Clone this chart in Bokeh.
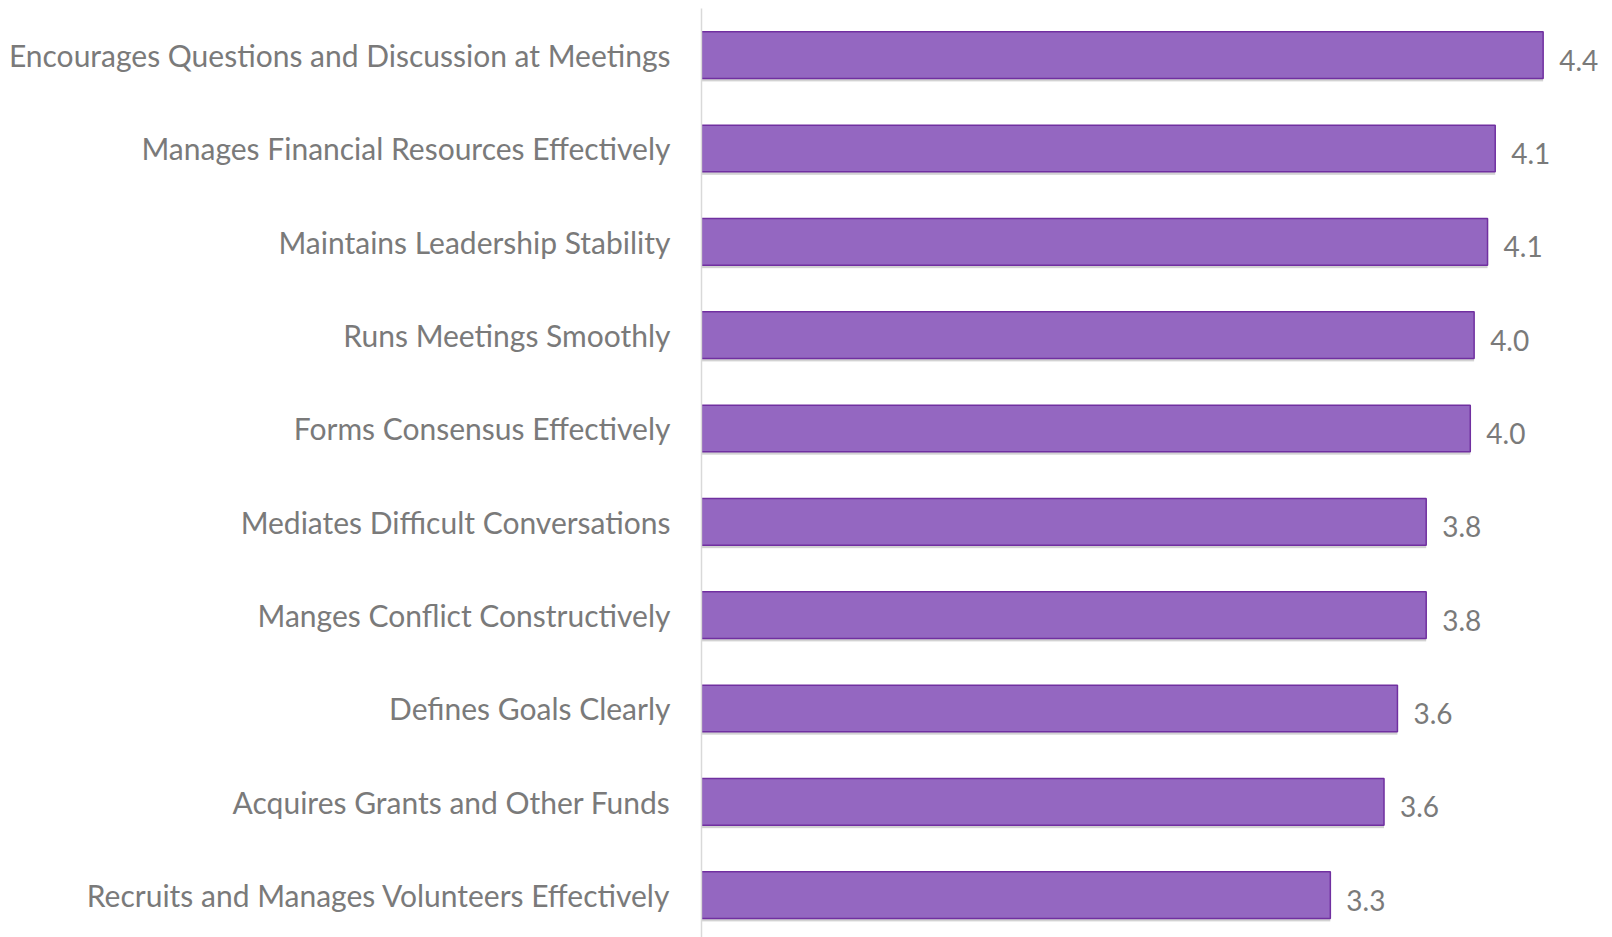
from bokeh.plotting import figure
from bokeh.models import ColumnDataSource, Range1d, FixedTicker
from bokeh.transform import dodge
from bokeh.core.properties import value
from bokeh.embed import file_html
from bokeh.resources import INLINE

categories = [
    "Encourages Questions and Discussion at Meetings",
    "Manages Financial Resources Effectively",
    "Maintains Leadership Stability",
    "Runs Meetings Smoothly",
    "Forms Consensus Effectively",
    "Mediates Difficult Conversations",
    "Manges Conflict Constructively",
    "Defines Goals Clearly",
    "Acquires Grants and Other Funds",
    "Recruits and Manages Volunteers Effectively",
]
scores = [4.39, 4.14, 4.10, 4.03, 4.01, 3.78, 3.78, 3.63, 3.56, 3.28]

n = len(categories)
ys = [n - 0.5 - i for i in range(n)]
labels = [f"{v:.1f}" for v in scores]

src = ColumnDataSource(dict(y=ys, x=scores, label=labels, cat=categories))

FONT = "Lato"
GRAY = "#7a7a7a"

p = figure(width=1604, height=937, output_backend="svg", toolbar_location=None,
           x_range=Range1d(0, 4.71), y_range=Range1d(n - 929 / 93.33, n),
           min_border_left=701, min_border_right=0, min_border_top=8, min_border_bottom=0)
p.outline_line_color = None
p.xgrid.visible = False
p.ygrid.visible = False
p.xaxis.visible = False

# soft shadow
p.hbar(y=dodge("y", -0.03), right="x", left=0, height=0.5, source=src,
       fill_color="black", fill_alpha=0.12, line_color=None)
p.hbar(y=dodge("y", -0.045), right="x", left=0, height=0.48, source=src,
       fill_color="black", fill_alpha=0.06, line_color=None)

p.hbar(y="y", right="x", left=0, height=0.5, source=src,
       fill_color="#9467C1", line_color="#7030A0", line_width=1.5)

p.text(x="x", y="y", text="label", source=src, x_offset=16, y_offset=5,
       text_font=value(FONT), text_font_size="28px", text_color=GRAY,
       text_baseline="middle", text_align="left")

ax = p.yaxis[0]
ax.ticker = FixedTicker(ticks=ys)
ax.major_label_overrides = {y: c for y, c in zip(ys, categories)}
ax.major_tick_line_color = None
ax.minor_tick_line_color = None
ax.axis_line_color = "#d9d9d9"
ax.axis_line_width = 1.5
ax.major_label_standoff = 25
ax.major_label_text_font = FONT
ax.major_label_text_font_size = "30px"
ax.major_label_text_color = GRAY

open("out.html", "w").write(file_html(p, INLINE))
